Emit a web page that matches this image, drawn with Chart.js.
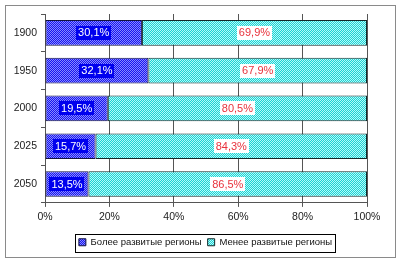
<!DOCTYPE html>
<html><head><meta charset="utf-8">
<script src="https://cdn.jsdelivr.net/npm/chart.js@4"></script>
<style>html,body{margin:0;padding:0;background:#fff}#w{width:402px;height:263px}</style>
</head><body><div id="w"><canvas id="c" width="402" height="263"></canvas></div>
<script>
const categories = ["1900","1950","2000","2025","2050"];
const developed = [30.1, 32.1, 19.5, 15.7, 13.5];
const lessDeveloped = [69.9, 67.9, 80.5, 84.3, 86.5];
const seriesNames = ["Более развитые регионы","Менее развитые регионы"];
const xTicks = [0,20,40,60,80,100];

function pattern(c1, c2){
  const p = document.createElement('canvas'); p.width = 2; p.height = 2;
  const g = p.getContext('2d');
  g.fillStyle = c1; g.fillRect(0,0,2,2);
  g.fillStyle = c2; g.fillRect(0,0,1,1); g.fillRect(1,1,1,1);
  return document.getElementById('c').getContext('2d').createPattern(p,'repeat');
}
const bluePat = pattern('#1616f0', '#8a8aff');
const cyanPat = pattern('#1ed2d2', '#b4fafa');
const FONT = '"Liberation Sans", Arial, sans-serif';

const fmt = v => v.toFixed(1).replace('.', ',') + '%';

const frame = {
  id:'frame',
  afterLayout(ch){
    const l = ch.legend;
    if(!l || !l.legendHitBoxes) return;
    const tops = l.legendHitBoxes.map(h => h.top);
    l.left += 22; l.right += 22;
    l.adjustHitBoxes();
    l.legendHitBoxes.forEach((h, i) => { h.top = tops[i]; });
  },
  beforeDraw(ch){
    const x = ch.ctx; x.save(); x.fillStyle='#fff'; x.fillRect(0,0,402,263);
    x.strokeStyle='#8a8a8a'; x.lineWidth=1; x.strokeRect(5.5,5.5,390,252); x.restore();
  },
  afterDraw(ch){
    const l = ch.legend; const x = ch.ctx;
    if(!l || !l.legendHitBoxes.length) return;
    const hb = l.legendHitBoxes;
    const left = hb[0].left - 4, right = hb[hb.length-1].left + hb[hb.length-1].width + 3;
    const top = hb[0].top - 4, bot = hb[0].top + hb[0].height + 4;
    x.save(); x.strokeStyle='#000'; x.lineWidth=1;
    x.strokeRect(Math.round(left)+0.5, Math.round(top)+0.5, Math.round(right-left), Math.round(bot-top));
    x.restore();
  },
  afterDatasetsDraw(ch){
    const x = ch.ctx; x.save();
    x.font = '11px ' + FONT;
    x.textAlign='center'; x.textBaseline='middle';
    ch.data.datasets.forEach((ds, di) => {
      ch.getDatasetMeta(di).data.forEach((bar, i) => {
        const cx = (bar.x + bar.base)/2, cy = bar.y;
        const t = fmt(ds.data[i]);
        const w = x.measureText(t).width + 4;
        x.fillStyle = di === 0 ? '#0000ee' : '#ffffff';
        x.fillRect(Math.round(cx - w/2), Math.round(cy - 7), Math.round(w), 14);
        x.fillStyle = di === 0 ? '#ffffff' : '#e8323c';
        x.fillText(t, cx, cy + 0.5);
      });
    });
    x.restore();
  }
};

new Chart(document.getElementById('c'), {
  type:'bar',
  data:{
    labels: categories,
    datasets:[
      {label: seriesNames[0], data: developed, backgroundColor: bluePat, borderColor:'#101040', borderWidth:1, borderSkipped:false},
      {label: seriesNames[1], data: lessDeveloped, backgroundColor: cyanPat, borderColor:'#102828', borderWidth:1, borderSkipped:false}
    ]
  },
  options:{
    indexAxis:'y', responsive:false, animation:false, devicePixelRatio:1,
    layout:{padding:{left:0,right:35,top:14,bottom:6}},
    datasets:{bar:{categoryPercentage:1, barPercentage:0.68}},
    plugins:{
      tooltip:{enabled:false},
      legend:{
        position:'bottom',
        labels:{boxWidth:7, boxHeight:7, padding:6, color:'#111',
          font:{family:FONT, size:9.5}},
      }
    },
    scales:{
      x:{
        stacked:true, min:0, max:100,
        afterBuildTicks(s){ s.ticks = xTicks.map(v=>({value:v})); },
        afterFit(s){ s.height += 4; },
        ticks:{callback:v=>v+'%', color:'#222', padding:4, maxRotation:0,
          font:{family:FONT, size:10.5}},
        grid:{color:'#555', tickLength:4, drawTicks:true},
        border:{color:'#555'}
      },
      y:{
        stacked:true,
        afterFit(s){ s.width = 45; },
        ticks:{color:'#222', padding:4,
          font:{family:FONT, size:10.5}},
        grid:{drawOnChartArea:false, offset:true, tickLength:4, color:'#555'},
        border:{color:'#555'}
      }
    }
  },
  plugins:[frame]
});
</script></body></html>
